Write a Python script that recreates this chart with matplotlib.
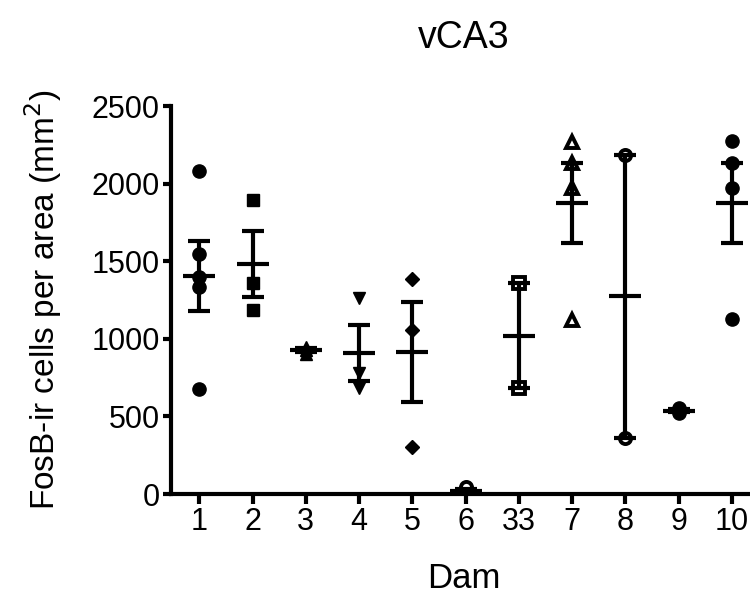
import numpy as np
import matplotlib.pyplot as plt

plt.rcParams['font.family'] = ['Liberation Sans', 'DejaVu Sans']

# dam labels and the values of each dam (FosB-ir cells per mm2)
dams = ['1', '2', '3', '4', '5', '6', '33', '7', '8', '9', '10']
d1 = [2079, 1546, 1400, 1331, 677]
d2 = [1897, 1359, 1187]
d3 = [950, 925, 905]
d4 = [1262, 778, 682]
d5 = [1387, 1058, 301]
d6 = [5, 15, 45]
d33 = [1357, 682]
d7 = [2270, 2130, 1970, 1120]
d8 = [2185, 362]
d9 = [520, 532, 555]
d10 = [2275, 2135, 1975, 1125]
groups = [d1, d2, d3, d4, d5, d6, d33, d7, d8, d9, d10]

# marker style per dam: (marker, filled, size)
styles = [('o', True, 9.5), ('s', True, 8.5), ('^', True, 9), ('v', True, 9),
          ('D', True, 7), ('o', False, 8), ('s', False, 8), ('^', False, 8.5),
          ('o', False, 8), ('o', True, 9.5), ('o', True, 9.5)]

fig = plt.figure(figsize=(7.5, 5.96), dpi=100)
ax = fig.add_axes([0.228, 0.1711, 0.78, 0.651])

for i, vals in enumerate(groups):
    vals = np.array(vals, dtype=float)
    m, filled, ms = styles[i]
    x = np.full(len(vals), i)
    ax.plot(x, vals, linestyle='none', marker=m, markersize=ms,
            markerfacecolor='black' if filled else 'white',
            markeredgecolor='black', markeredgewidth=2.8 if not filled else 1,
            zorder=3)
    # mean +/- SEM
    mean = vals.mean()
    sem = vals.std(ddof=1) / np.sqrt(len(vals))
    ax.errorbar(i, mean, yerr=sem, fmt='none', ecolor='black', elinewidth=3,
                capsize=8, capthick=3, zorder=4)
    ax.hlines(mean, i - 0.3, i + 0.3, color='black', linewidth=3, zorder=4)

ax.set_xlim(-0.53, 10.45)
ax.set_ylim(0, 2500)
ax.set_yticks([0, 500, 1000, 1500, 2000, 2500])
ax.set_xticks(range(len(dams)))
ax.set_xticklabels(dams)

for s in ['top', 'right']:
    ax.spines[s].set_visible(False)
for s in ['left', 'bottom']:
    ax.spines[s].set_linewidth(3)
ax.tick_params(axis='both', width=3, length=6, labelsize=22, pad=2)
ax.tick_params(axis='x', length=7)

ax.set_title('vCA3', fontsize=27, pad=42)
ax.set_xlabel('Dam', fontsize=25, labelpad=18)
ax.set_ylabel('FosB-ir cells per area (mm$^2$)', fontsize=24, labelpad=20)

fig.savefig('out.png', dpi=100)
